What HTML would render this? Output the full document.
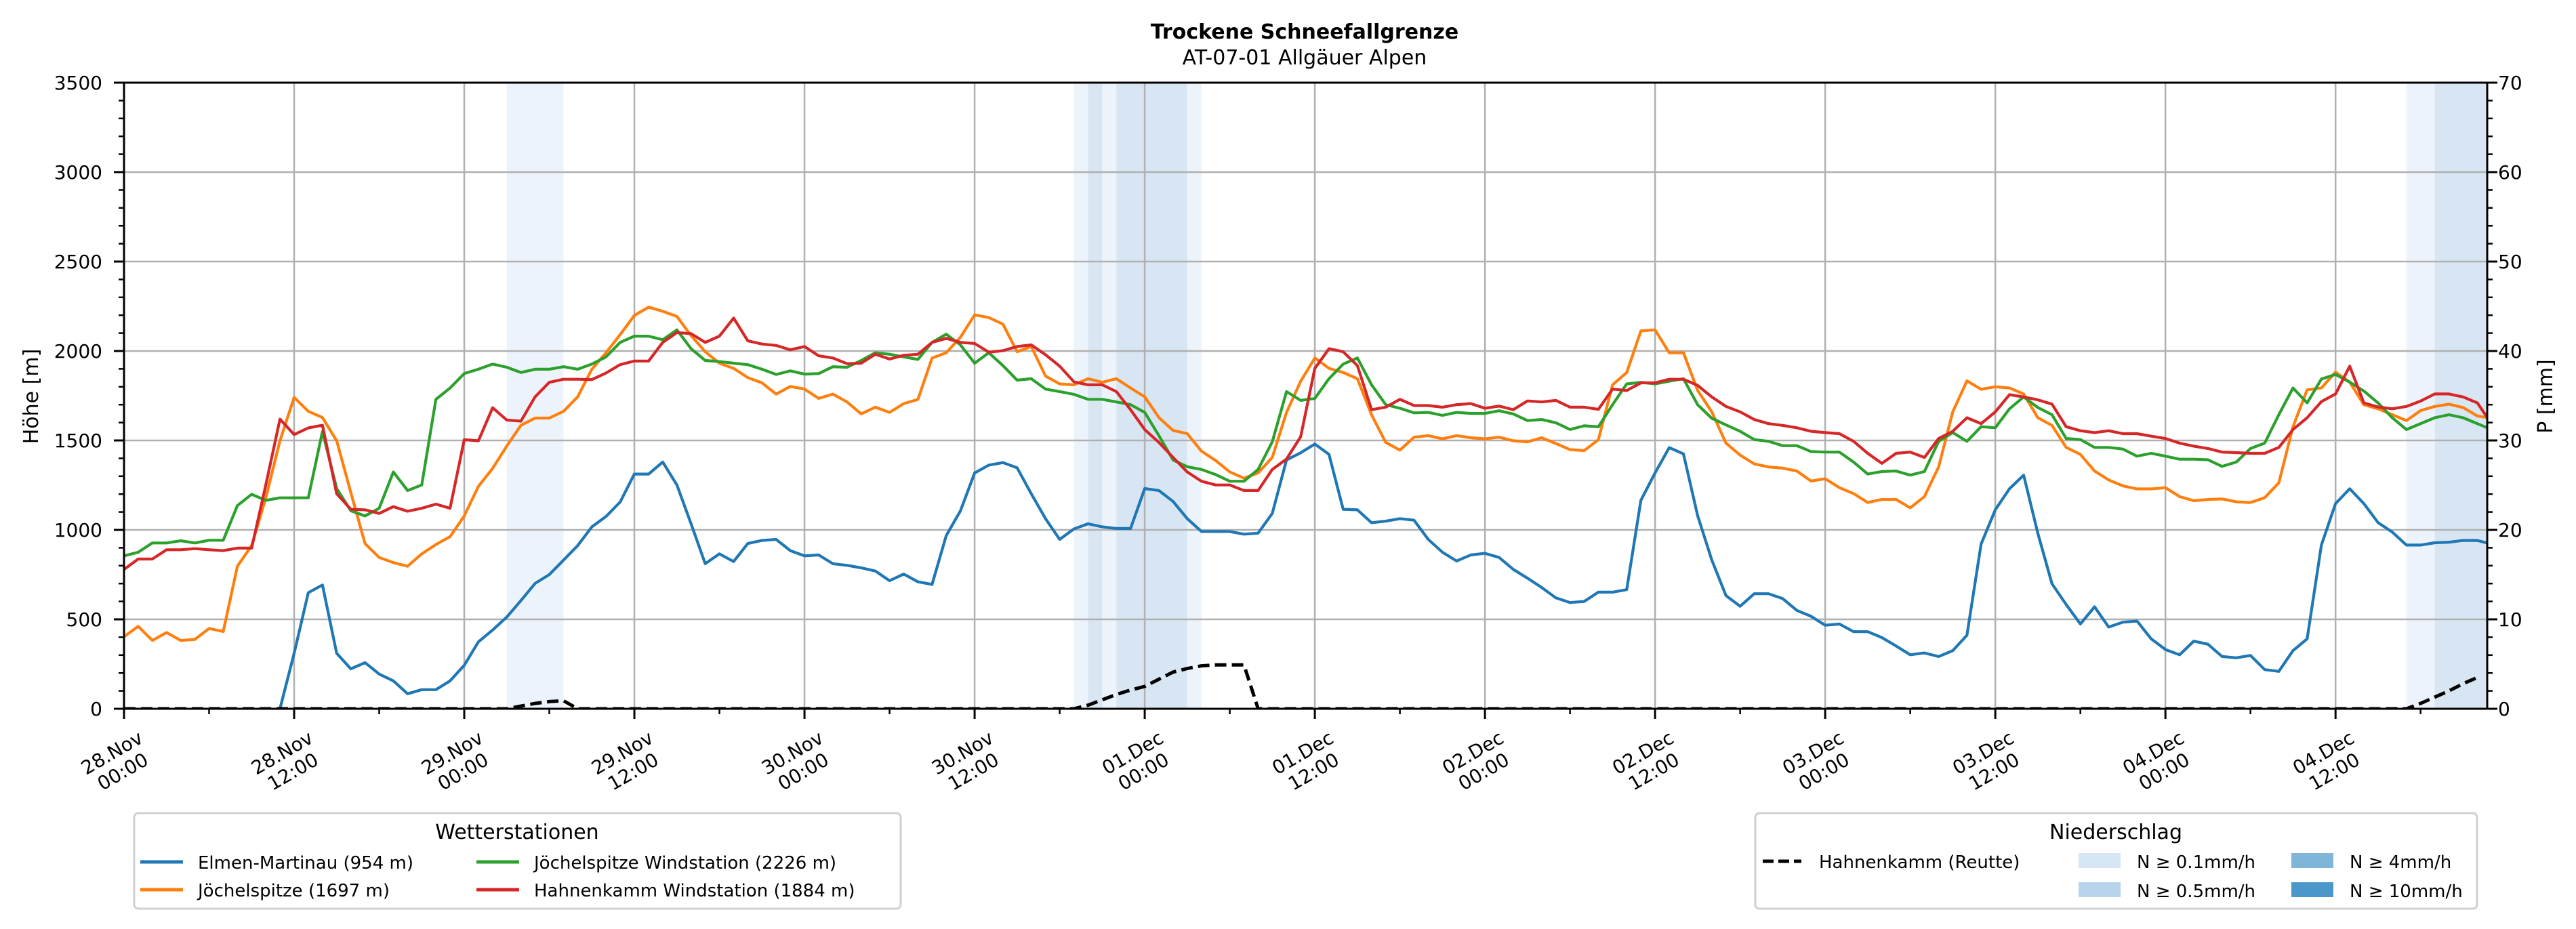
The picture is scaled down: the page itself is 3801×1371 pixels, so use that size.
<!DOCTYPE html>
<html><head><meta charset="utf-8">
<style>
html,body{margin:0;padding:0;background:#fff;}
svg{display:block;font-family:"DejaVu Sans","Liberation Sans",sans-serif;}
</style></head>
<body>
<svg id="chart" width="3801" height="1371" viewBox="0 0 3801 1371" xmlns="http://www.w3.org/2000/svg">
<text x="1925" y="57" text-anchor="middle" font-size="30" font-weight="bold">Trockene Schneefallgrenze</text>
<text x="1925" y="95" text-anchor="middle" font-size="30">AT-07-01 Allgäuer Alpen</text>
<defs><clipPath id="plotclip"><rect x="183" y="122" width="3487" height="924"/></clipPath></defs>
<g id="bands" clip-path="url(#plotclip)"></g>
<g id="grid"></g>
<g id="series" clip-path="url(#plotclip)"></g>
<g id="axes"></g>
<text transform="translate(56,585) rotate(-90)" text-anchor="middle" font-size="30">Höhe [m]</text>
<text transform="translate(3766,585) rotate(-90)" text-anchor="middle" font-size="30">P [mm]</text>

<g>
<rect x="198" y="1200" width="1131" height="141" rx="6" fill="#fff" stroke="#d0d0d0" stroke-width="3"/>
<text x="763" y="1238" text-anchor="middle" font-size="30">Wetterstationen</text>
<g><line x1="207" y1="1272" x2="270" y2="1272" stroke="#1f77b4" stroke-width="5"/><text x="292" y="1282" font-size="26">Elmen-Martinau (954 m)</text></g>
<g><line x1="207" y1="1313" x2="270" y2="1313" stroke="#ff7f0e" stroke-width="5"/><text x="292" y="1323" font-size="26">Jöchelspitze (1697 m)</text></g>
<g><line x1="703" y1="1272" x2="766" y2="1272" stroke="#2ca02c" stroke-width="5"/><text x="788" y="1282" font-size="26">Jöchelspitze Windstation (2226 m)</text></g>
<g><line x1="703" y1="1313" x2="766" y2="1313" stroke="#d62728" stroke-width="5"/><text x="788" y="1323" font-size="26">Hahnenkamm Windstation (1884 m)</text></g>
</g>

<g>
<rect x="2590" y="1200" width="1065" height="141" rx="6" fill="#fff" stroke="#d0d0d0" stroke-width="3"/>
<text x="3122" y="1238" text-anchor="middle" font-size="30">Niederschlag</text>
<g><line x1="2601" y1="1271" x2="2658" y2="1271" stroke="#000" stroke-width="5" stroke-dasharray="16,7"/><text x="2684" y="1281" font-size="26">Hahnenkamm (Reutte)</text></g>
<g><rect x="3067" y="1259" width="62" height="22" fill="#d6e6f4"/><text x="3153" y="1281" font-size="26">N ≥ 0.1mm/h</text></g>
<g><rect x="3067" y="1302" width="62" height="22" fill="#b8d4ea"/><text x="3153" y="1324" font-size="26">N ≥ 0.5mm/h</text></g>
<g><rect x="3381" y="1259" width="62" height="22" fill="#80b5da"/><text x="3467" y="1281" font-size="26">N ≥ 4mm/h</text></g>
<g><rect x="3381" y="1302" width="62" height="22" fill="#4b97c9"/><text x="3467" y="1324" font-size="26">N ≥ 10mm/h</text></g>
</g>
</svg>
<script>
const hours = Array.from({length:168},(_,i)=>i);
const elmen = [null,null,null,null,null,null,null,null,null,null,null,0,310,649,692,310,223,258,194,156,84,107,107,156,243,374,440,513,605,701,750,831,912,1017,1075,1156,1312,1312,1379,1251,1034,811,866,823,924,941,947,884,855,860,811,802,788,770,716,753,710,695,968,1107,1318,1362,1376,1347,1202,1063,947,1005,1034,1017,1008,1008,1231,1220,1159,1063,991,991,991,976,982,1092,1391,1431,1480,1422,1115,1112,1040,1049,1063,1054,947,875,826,860,869,846,779,730,678,620,594,600,652,652,666,1165,1318,1460,1425,1080,832,633,573,643,643,616,550,517,467,474,431,431,398,351,302,312,292,325,411,921,1113,1230,1306,981,699,583,474,570,457,484,490,391,331,302,378,361,292,285,298,219,209,325,391,915,1147,1230,1147,1041,988,915,915,928,931,941,941,921];
const joechel = [403,461,382,426,382,388,449,432,797,912,1179,1498,1741,1663,1628,1498,1208,924,846,817,797,866,918,962,1078,1243,1344,1469,1585,1625,1625,1663,1744,1898,1990,2092,2199,2245,2222,2193,2086,1996,1932,1903,1851,1822,1759,1802,1787,1735,1759,1715,1648,1686,1657,1706,1729,1961,1990,2077,2202,2187,2150,1996,2025,1860,1816,1811,1845,1825,1845,1793,1744,1628,1556,1538,1440,1388,1324,1289,1318,1405,1657,1831,1961,1903,1880,1845,1643,1489,1446,1518,1527,1509,1527,1515,1509,1518,1498,1492,1515,1483,1449,1443,1504,1811,1880,2112,2118,1990,1990,1780,1660,1485,1418,1369,1352,1345,1329,1273,1286,1236,1203,1153,1170,1170,1123,1186,1352,1660,1833,1786,1800,1793,1760,1627,1584,1461,1422,1329,1279,1246,1229,1229,1236,1186,1163,1170,1173,1157,1153,1180,1263,1577,1783,1793,1882,1826,1700,1677,1644,1611,1667,1690,1703,1684,1637,1624];
const joechelWind = [855,875,927,927,939,927,942,942,1136,1199,1165,1179,1179,1179,1550,1231,1107,1078,1121,1324,1220,1251,1730,1793,1874,1898,1927,1909,1880,1898,1898,1912,1898,1927,1967,2048,2083,2083,2063,2118,2013,1947,1941,1932,1924,1898,1869,1889,1871,1874,1912,1909,1947,1990,1982,1967,1953,2048,2094,2034,1932,1990,1918,1837,1845,1787,1773,1758,1730,1730,1715,1700,1657,1527,1391,1353,1338,1309,1272,1272,1338,1492,1773,1724,1735,1845,1927,1961,1811,1700,1680,1654,1657,1640,1657,1651,1651,1666,1648,1611,1617,1599,1561,1582,1576,1700,1816,1825,1816,1831,1845,1700,1624,1587,1551,1505,1495,1471,1471,1438,1435,1435,1379,1312,1326,1329,1306,1326,1495,1544,1495,1577,1571,1677,1743,1684,1644,1511,1505,1461,1461,1452,1412,1428,1412,1395,1395,1392,1355,1379,1455,1485,1644,1793,1710,1843,1869,1826,1776,1710,1627,1561,1594,1627,1644,1627,1594,1561];
const hahnenWind = [779,837,837,889,889,895,889,884,898,898,1251,1619,1533,1570,1585,1202,1115,1112,1092,1130,1104,1121,1144,1121,1504,1498,1683,1614,1608,1744,1825,1842,1842,1840,1877,1924,1944,1944,2048,2103,2097,2048,2083,2184,2057,2039,2031,2007,2025,1973,1961,1929,1932,1982,1955,1976,1982,2048,2071,2048,2042,1993,2002,2025,2034,1979,1915,1828,1811,1811,1773,1672,1561,1489,1405,1324,1272,1251,1251,1220,1220,1338,1396,1521,1903,2013,1996,1918,1672,1686,1730,1695,1695,1686,1700,1706,1680,1692,1672,1721,1715,1724,1686,1686,1674,1787,1779,1822,1822,1842,1842,1808,1743,1690,1660,1617,1594,1584,1571,1551,1544,1538,1495,1428,1372,1428,1435,1405,1511,1551,1627,1594,1660,1756,1743,1727,1703,1577,1554,1544,1554,1538,1538,1524,1511,1485,1468,1455,1435,1432,1428,1428,1461,1561,1627,1717,1760,1915,1710,1687,1677,1690,1720,1760,1760,1743,1710,1594];
const precip = [0,0,0,0,0,0,0,0,0,0,0,0,0,0,0,0,0,0,0,0,0,0,0,0,0,0,0,0,0.3,0.6,0.8,0.9,0,0,0,0,0,0,0,0,0,0,0,0,0,0,0,0,0,0,0,0,0,0,0,0,0,0,0,0,0,0,0,0,0,0,0,0,0.4,1.0,1.6,2.1,2.5,3.3,4.1,4.5,4.8,4.9,4.9,4.9,0,0,0,0,0,0,0,0,0,0,0,0,0,0,0,0,0,0,0,0,0,0,0,0,0,0,0,0,0,0,0,0,0,0,0,0,0,0,0,0,0,0,0,0,0,0,0,0,0,0,0,0,0,0,0,0,0,0,0,0,0,0,0,0,0,0,0,0,0,0,0,0,0,0,0,0,0,0,0,0,0,0,0.6,1.3,2.0,2.8,3.5];
const bandStart = [27,67,68,69,70,75,161,163];
const bandEnd   = [31,68,69,70,75,76,163,168];
const bandLevel = [1,1,2,1,2,1,1,2];
const xTickLabels = ["28.Nov\n00:00","28.Nov\n12:00","29.Nov\n00:00","29.Nov\n12:00","30.Nov\n00:00","30.Nov\n12:00","01.Dec\n00:00","01.Dec\n12:00","02.Dec\n00:00","02.Dec\n12:00","03.Dec\n00:00","03.Dec\n12:00","04.Dec\n00:00","04.Dec\n12:00"];
const yTicks = [0,500,1000,1500,2000,2500,3000,3500];
const y2Ticks = [0,10,20,30,40,50,60,70];

const L=183,R=3670,T=122,B=1046,HMAX=166.7;
const NS="http://www.w3.org/2000/svg";
const xs=h=>L+h*(R-L)/HMAX;
const ys=v=>B-v*(B-T)/3500;
const ys2=v=>B-v*(B-T)/70;
function mk(tag,attrs,parent){const e=document.createElementNS(NS,tag);for(const k in attrs)e.setAttribute(k,attrs[k]);parent.appendChild(e);return e;}
const gB=document.getElementById('bands'),gG=document.getElementById('grid'),gS=document.getElementById('series'),gA=document.getElementById('axes');

bandStart.forEach((s,i)=>{
  const r=mk('rect',{x:xs(s),y:T,width:xs(bandEnd[i])-xs(s),height:B-T,fill:bandLevel[i]==2?'#d8e6f3':'#edf3fa'},gB);
  
  
});
// grid
xTickLabels.forEach((lab,i)=>{
  const x=xs(i*12);
  const g=mk('line',{x1:x,y1:T,x2:x,y2:B,stroke:'#b0b0b0','stroke-width':2.5},gG);
  
  
});
yTicks.forEach(v=>{
  const y=ys(v);
  const g=mk('line',{x1:L,y1:y,x2:R,y2:y,stroke:'#b0b0b0','stroke-width':2.5},gG);
  
  
});
// series
function line(arr,color,name){
  let d='',pen=false;
  arr.forEach((v,i)=>{if(v===null){pen=false;return;}d+=(pen?'L':'M')+xs(hours[i]).toFixed(1)+','+ys(v).toFixed(1);pen=true;});
  const p=mk('path',{d:d,fill:'none',stroke:color,'stroke-width':4.2,'stroke-linejoin':'round'},gS);
  
  
}
line(elmen,'#1f77b4','elmen-martinau-line');
line(joechel,'#ff7f0e','joechelspitze-line');
line(joechelWind,'#2ca02c','joechelspitze-wind-line');
line(hahnenWind,'#d62728','hahnenkamm-wind-line');
{
  let d='';precip.forEach((v,i)=>{d+=(i?'L':'M')+xs(hours[i]).toFixed(1)+','+ys2(v).toFixed(1);});
  const p=mk('path',{d:d,fill:'none',stroke:'#000','stroke-width':5,'stroke-dasharray':'17,8'},gS);
  
  
}
// axes frame
const fr=mk('rect',{x:L,y:T,width:R-L,height:B-T,fill:'none',stroke:'#000','stroke-width':3},gA);


// x ticks
for(let h=0;h<=HMAX;h+=6){
  const x=xs(h),maj=h%12===0;
  mk('line',{x1:x,y1:B,x2:x,y2:B+(maj?15:8),stroke:'#000','stroke-width':maj?3:2.5},gA);
}
xTickLabels.forEach((lab,i)=>{
  const x=xs(i*12)-8,y=1128;
  const t=mk('text',{transform:`translate(${x},${y}) rotate(-30)`,'text-anchor':'middle','font-size':28},gA);
  
  
  lab.split('\n').forEach((s,j)=>{const ts=mk('tspan',{x:0,y:j?22:-10},t);ts.textContent=s;});
});
// y ticks left
for(let v=0;v<=3500;v+=100){
  const y=ys(v),maj=v%500===0;
  mk('line',{x1:L-(maj?15:8),y1:y,x2:L,y2:y,stroke:'#000','stroke-width':maj?3:2.5},gA);
}
yTicks.forEach(v=>{
  const t=mk('text',{x:151,y:ys(v)+10,'text-anchor':'end','font-size':28},gA);
  t.textContent=v;
  
  
});
// right ticks
for(let v=0;v<=70;v+=2){
  const y=ys2(v),maj=v%10===0;
  mk('line',{x1:R,y1:y,x2:R+(maj?15:8),y2:y,stroke:'#000','stroke-width':maj?3:2.5},gA);
}
y2Ticks.forEach(v=>{
  const t=mk('text',{x:3686,y:ys2(v)+10,'text-anchor':'start','font-size':28},gA);
  t.textContent=v;
  
  
});
</script>
</body></html>
